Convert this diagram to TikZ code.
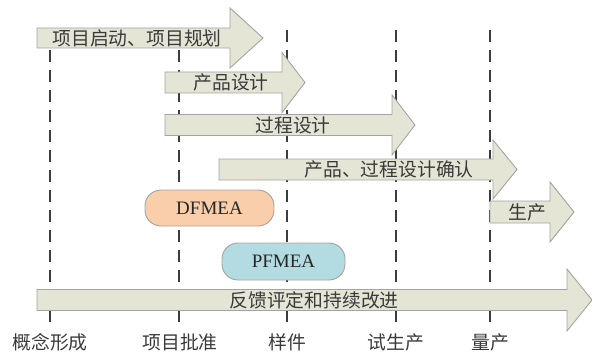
\documentclass[tikz,border=0pt]{standalone}
\usepackage{fontspec}
\setmainfont{Liberation Serif}
\newfontfamily\cjk{Noto Sans CJK SC}
\definecolor{arrowfill}{HTML}{E5E5D6}
\definecolor{arrowline}{HTML}{A3A3A3}
\definecolor{dfill}{HTML}{F8CFAA}
\definecolor{pfill}{HTML}{B3DCE2}
\definecolor{txt}{HTML}{3A3A3A}
\definecolor{dash}{HTML}{3C3C3C}
\newcommand\harrow[6]{%
  \draw[arrowbox] (#1,#4-#5) -- (#2,#4-#5) -- (#2,#4-#6) -- (#3,#4) -- (#2,#4+#6) -- (#2,#4+#5) -- (#1,#4+#5) -- cycle;}
\begin{document}
\begin{tikzpicture}[x=1pt,y=-1pt,
  arrowbox/.style={fill=arrowfill,draw=arrowline,line width=0.9pt,line join=miter},
  lab/.style={font=\cjk\fontsize{18.8}{19}\selectfont,text=txt,inner sep=0pt},
  fmea/.style={draw=arrowline,line width=0.9pt,rounded corners=16pt,inner sep=0pt,font=\fontsize{19}{20}\selectfont,text=black!85},
  dashline/.style={draw=dash,line width=1.3pt,dash pattern=on 12pt off 8pt}]
\useasboundingbox (0,0) rectangle (592,353);
% dashed milestone lines (behind everything)
\coordinate (d1t) at (50,30);  \coordinate (d1b) at (50,328);
\coordinate (d2t) at (179,30); \coordinate (d2b) at (179,328);
\coordinate (d3t) at (287,30); \coordinate (d3b) at (287,328);
\coordinate (d4t) at (396,30); \coordinate (d4b) at (396,328);
\coordinate (d5t) at (490,30); \coordinate (d5b) at (490,328);
\draw[dashline] (d1t) -- (d1b);
\draw[dashline] (d2t) -- (d2b);
\draw[dashline] (d3t) -- (d3b);
\draw[dashline] (d4t) -- (d4b);
\draw[dashline] (d5t) -- (d5b);
% arrows
\harrow{37}{230}{263}{38}{10}{30}
\harrow{165}{282}{305}{82.5}{10.5}{30}
\harrow{165}{392}{415}{125}{10.5}{30}
\harrow{219}{493}{517}{169.5}{10.5}{29.5}
\harrow{490}{550}{574}{212}{11}{30}
\harrow{37}{567}{592}{300}{10.5}{31}
% fmea boxes
\node[fmea,fill=dfill,minimum width=129pt,minimum height=36pt] (dfmea) at (209.5,208) {DFMEA};
\node[fmea,fill=pfill,minimum width=123pt,minimum height=37pt] (pfmea) at (283.5,261.5) {PFMEA};
% arrow texts
\node[lab] (t1) at (137,38) {项目启动、项目规划};
\node[lab] (t2) at (231,82) {产品设计};
\node[lab] (t3) at (293,125) {过程设计};
\node[lab] (t4) at (389,169) {产品、过程设计确认};
\node[lab] (t5) at (527,212) {生产};
\node[lab] (t6) at (314,300) {反馈评定和持续改进};
% milestone labels
\node[lab] (m1) at (50,342) {概念形成};
\node[lab] (m2) at (180,342) {项目批准};
\node[lab] (m3) at (287,342) {样件};
\node[lab] (m4) at (396,342) {试生产};
\node[lab] (m5) at (490,342) {量产};
\end{tikzpicture}
\end{document}
